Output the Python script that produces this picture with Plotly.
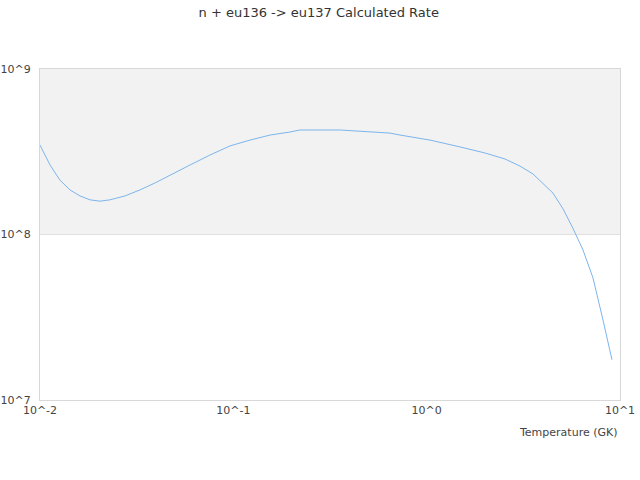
import plotly.graph_objects as go

# temperature (GK) and rate
temperature = [0.01, 0.01127, 0.01268, 0.01429, 0.0161, 0.01815, 0.0204, 0.0230,
               0.0275, 0.0329, 0.0394, 0.0470, 0.0597, 0.0757, 0.0961, 0.122,
               0.155, 0.196, 0.221, 0.356, 0.452, 0.646, 0.728, 1.04, 1.49,
               2.00, 2.54, 3.04, 3.55, 4.50, 5.07, 5.71, 6.44, 7.25, 8.17, 9.09]
rate = [3.47e8, 2.63e8, 2.13e8, 1.86e8, 1.71e8, 1.62e8, 1.59e8, 1.62e8,
        1.71e8, 1.86e8, 2.05e8, 2.29e8, 2.63e8, 3.02e8, 3.43e8, 3.72e8,
        3.99e8, 4.16e8, 4.28e8, 4.28e8, 4.22e8, 4.10e8, 3.99e8, 3.72e8, 3.38e8,
        3.11e8, 2.86e8, 2.59e8, 2.32e8, 1.78e8, 1.43e8, 1.09e8, 8.05e7, 5.46e7,
        3.04e7, 1.75e7]

x_ticks = [0.01, 0.1, 1, 10]
x_labels = ["10^-2", "10^-1", "10^0", "10^1"]
y_ticks = [1e7, 1e8, 1e9]
y_labels = ["10^7", "10^8", "10^9"]

fig = go.Figure()
fig.add_trace(go.Scatter(x=temperature, y=rate, mode="lines",
                         line=dict(color="#7cb5ec", width=1), showlegend=False))

# shaded band between 10^8 and 10^9
fig.add_shape(type="rect", xref="paper", x0=0, x1=1, yref="y", y0=1e8, y1=1e9,
              fillcolor="#f2f2f2", line_width=0, layer="below")

fig.update_layout(
    width=640, height=480,
    margin=dict(l=40, r=20, t=69, b=80, autoexpand=False),
    paper_bgcolor="white", plot_bgcolor="white",
    font=dict(family="DejaVu Sans", size=11, color="#444"),
    title=dict(text="n + eu136 -> eu137 Calculated Rate", x=0.498, xanchor="center",
               xref="container", yref="container",
               y=0.975, yanchor="middle", font=dict(size=13, color="#333")),
    xaxis=dict(type="log", range=[-2, 1], tickvals=x_ticks, ticktext=x_labels,
               showgrid=False, showline=True, linecolor="#d8d8d8", mirror=True,
               zeroline=False, ticks="", automargin=False),
    yaxis=dict(type="log", range=[7, 9], tickvals=y_ticks, ticktext=y_labels,
               showgrid=True, gridcolor="#e0e0e0", showline=True, linecolor="#d8d8d8",
               mirror=True, zeroline=False, ticks="", ticklabelstandoff=6,
               automargin=False),
    annotations=[dict(text="Temperature (GK)", xref="paper", yref="paper", x=1, y=0,
                      xanchor="right", yanchor="top", yshift=-24, showarrow=False,
                      font=dict(size=11, color="#444"))],
)

# drop the page's default body margin so the figure sits at 0,0
fig.write_html("out.html", config={"displayModeBar": False},
               post_script="document.body.style.margin='0';")
